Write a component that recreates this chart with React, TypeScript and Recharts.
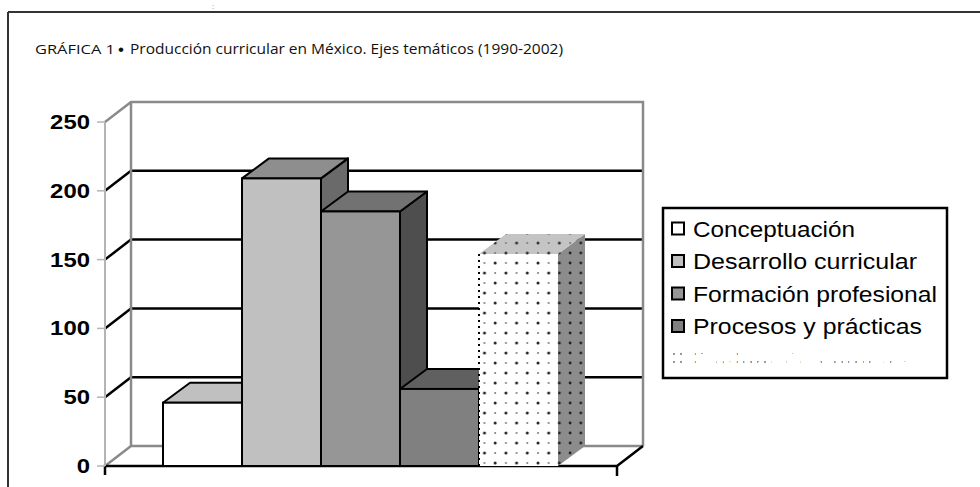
import { Bar, BarChart, CartesianGrid, ReferenceArea, XAxis, YAxis } from 'recharts';

const categories = ['1990-2002'];
const seriesNames = [
  'Conceptuación',
  'Desarrollo curricular',
  'Formación profesional',
  'Procesos y prácticas',
  'Evaluación curricular',
];
const seriesValues = [46, 209, 185, 56, 154];
const yTicks = [0, 50, 100, 150, 200, 250];
const gridValues = [50, 100, 150, 200];

const W = 980;
const H = 487;
const WALL_DX = 26;
const BAR_DX = 27;
const DY = -20;
const FRAME = '#8a8a8a';

type Face = { front: string; top: string; side: string; swatch: string; dotted?: boolean };

const faces: Face[] = [
  { front: '#ffffff', top: '#c0c0c0', side: '#a0a0a0', swatch: '#ffffff' },
  { front: '#c0c0c0', top: '#8e8e8e', side: '#6a6a6a', swatch: '#c0c0c0' },
  { front: '#969696', top: '#727272', side: '#4e4e4e', swatch: '#969696' },
  { front: '#808080', top: '#606060', side: '#484848', swatch: '#808080' },
  { front: 'url(#dotsFront)', top: 'url(#dotsTop)', side: 'url(#dotsSide)', swatch: 'url(#dotsText)', dotted: true },
];

const data = categories.map((category) => {
  const row: Record<string, string | number> = { category };
  seriesNames.forEach((_, i) => {
    row[`s${i}`] = seriesValues[i];
  });
  return row;
});

function Box3D(props: any) {
  const { x, y, width: w, height: h, face } = props as { x: number; y: number; width: number; height: number; face: Face };
  const stroke = face.dotted ? 'none' : '#000';
  const sw = face.dotted ? 0 : 2;
  return (
    <g>
      <polygon
        points={`${x + w},${y} ${x + w + BAR_DX},${y + DY} ${x + w + BAR_DX},${y + h + DY} ${x + w},${y + h}`}
        fill={face.side}
        stroke={stroke}
        strokeWidth={sw}
        strokeLinejoin="round"
      />
      <polygon
        points={`${x},${y} ${x + BAR_DX},${y + DY} ${x + w + BAR_DX},${y + DY} ${x + w},${y}`}
        fill={face.top}
        stroke={stroke}
        strokeWidth={sw}
        strokeLinejoin="round"
      />
      <rect x={x} y={y} width={w} height={h} fill={face.front} stroke={stroke} strokeWidth={sw} />
      {face.dotted && (
        <line x1={x} y1={y} x2={x} y2={y + h} stroke="#000" strokeWidth={2} strokeDasharray="2 4" />
      )}
    </g>
  );
}

function Walls(props: any) {
  const { x, y, width: w, height: h } = props as { x: number; y: number; width: number; height: number };
  const bx = x + WALL_DX;
  const by = y + DY;
  return (
    <g fill="none">
      <polyline points={`${x},${y} ${bx},${by} ${bx + w},${by} ${bx + w},${by + h}`} stroke={FRAME} strokeWidth={2.5} />
      <line x1={bx} y1={by} x2={bx} y2={by + h} stroke={FRAME} strokeWidth={2.5} />
      <polyline points={`${x},${y + h} ${bx},${by + h} ${bx + w},${by + h}`} stroke={FRAME} strokeWidth={2.5} />
      <polyline points={`${x},${y + h + 9} ${x},${y + h} ${x + w},${y + h} ${bx + w},${by + h}`} stroke="#000" strokeWidth={2.5} />
      <line x1={x + w} y1={y + h} x2={x + w} y2={y + h + 10} stroke="#000" strokeWidth={2.5} />
    </g>
  );
}

function GridLine(props: any) {
  const { x1, y1, x2, y2, index } = props;
  return (
    <g key={`grid-${index}`} stroke="#000" strokeWidth={2.5}>
      <line x1={x1} y1={y1} x2={x1 + WALL_DX} y2={y1 + DY} />
      <line x1={x1 + WALL_DX} y1={y1 + DY} x2={x2 + WALL_DX} y2={y2 + DY} />
    </g>
  );
}

function YTick(props: any) {
  const { x, y, payload } = props;
  const s = String(payload.value);
  return (
    <text
      x={x}
      y={y}
      dy="0.36em"
      textAnchor="end"
      fontFamily="'Liberation Sans', Arial, sans-serif"
      fontWeight="bold"
      fontSize={19.5}
      textLength={s.length * 13.3}
      lengthAdjust="spacingAndGlyphs"
      fill="#000"
    >
      {s}
    </text>
  );
}

const legendWidths = [162, 224, 244, 229, 227];

function Patterns() {
  return (
    <defs>
      <pattern id="dotsFront" width="21.4" height="20" patternUnits="userSpaceOnUse">
        <rect width="21.4" height="20" fill="#fff" />
        <circle cx="3" cy="3" r="1.5" fill="#222" />
        <circle cx="13.7" cy="13" r="1.5" fill="#222" />
        <circle cx="13.7" cy="3" r="1" fill="#777" />
        <circle cx="3" cy="13" r="1" fill="#777" />
      </pattern>
      <pattern id="dotsTop" width="21.4" height="20" patternUnits="userSpaceOnUse">
        <rect width="21.4" height="20" fill="#c4c4c4" />
        <circle cx="3" cy="3" r="1.5" fill="#333" />
        <circle cx="13.7" cy="13" r="1.5" fill="#333" />
        <circle cx="13.7" cy="3" r="1" fill="#777" />
        <circle cx="3" cy="13" r="1" fill="#777" />
      </pattern>
      <pattern id="dotsSide" width="10.7" height="10" patternUnits="userSpaceOnUse">
        <rect width="10.7" height="10" fill="#8c8c8c" />
        <circle cx="3" cy="3" r="1.4" fill="#222" />
      </pattern>
      <pattern id="dotsText" width="7" height="8" patternUnits="userSpaceOnUse">
        <rect width="7" height="8" fill="#fff" />
        <circle cx="2" cy="2" r="0.9" fill="#666" />
      </pattern>
    </defs>
  );
}

export default function App() {
  return (
    <div style={{ position: 'absolute', left: 0, top: 0, width: W, height: H, background: '#fff' }}>
      <svg width={W} height={H} style={{ position: 'absolute', left: 0, top: 0 }}>
        <Patterns />
        <line x1={8} y1={12} x2={W} y2={12} stroke="#333" strokeWidth={2} />
        <line x1={8} y1={12} x2={8} y2={H} stroke="#333" strokeWidth={2} />
        <text x={212} y={9} fontSize={8} fill="#777" fontFamily="'Liberation Sans', Arial">:</text>
        <text x={35} y={54} fontFamily="'Open Sans', sans-serif" fontSize={13} textLength={80} lengthAdjust="spacingAndGlyphs" fill="#111">
          GRÁFICA 1
        </text>
        <text x={118} y={55} fontFamily="'Liberation Sans', Arial, sans-serif" fontSize={17} fill="#111">•</text>
        <text x={130} y={54} fontFamily="'Open Sans', sans-serif" fontSize={14.5} textLength={433} lengthAdjust="spacingAndGlyphs" fill="#111">
          Producción curricular en México. Ejes temáticos (1990-2002)
        </text>
      </svg>

      <div style={{ position: 'absolute', left: 0, top: 0 }}>
        <BarChart
          width={W}
          height={H}
          data={data}
          margin={{ top: 122, right: 363, bottom: 21, left: 45 }}
          barCategoryGap={58}
          barGap={0}
        >
          <XAxis dataKey="category" hide />
          <YAxis
            domain={[0, 250]}
            ticks={yTicks}
            interval={0}
            width={60}
            axisLine={{ stroke: '#b4b4b4', strokeWidth: 2 }}
            tickLine={{ stroke: '#b4b4b4', strokeWidth: 1.5 }}
            tickSize={8}
            tickMargin={7}
            tick={<YTick />}
          />
          <ReferenceArea y1={0} y2={250} ifOverflow="visible" shape={(p: any) => <Walls {...p} />} />
          <CartesianGrid vertical={false} horizontalValues={gridValues} horizontal={(p: any) => <GridLine {...p} />} />
          {seriesNames.map((name, i) => (
            <Bar
              key={name}
              dataKey={`s${i}`}
              name={name}
              isAnimationActive={false}
              shape={(p: any) => <Box3D {...p} face={faces[i]} />}
            />
          ))}
        </BarChart>
      </div>

      <svg width={W} height={H} style={{ position: 'absolute', left: 0, top: 0, pointerEvents: 'none' }}>
        <rect x={663} y={208} width={284} height={170} fill="#fff" stroke="#000" strokeWidth={2.5} />
        {seriesNames.map((name, i) => {
          const cy = 228.5 + i * 32.5;
          const face = faces[i];
          return (
            <g key={name}>
              <rect
                x={672}
                y={cy - 6}
                width={12}
                height={12}
                fill={face.swatch}
                stroke={face.dotted ? 'none' : '#000'}
                strokeWidth={2}
              />
              <text
                x={693}
                y={cy + 8}
                fontFamily="'Liberation Sans', Arial, sans-serif"
                fontSize={22}
                textLength={legendWidths[i]}
                lengthAdjust="spacingAndGlyphs"
                fill={face.dotted ? 'url(#dotsText)' : '#000'}
              >
                {name}
              </text>
            </g>
          );
        })}
      </svg>
    </div>
  );
}
